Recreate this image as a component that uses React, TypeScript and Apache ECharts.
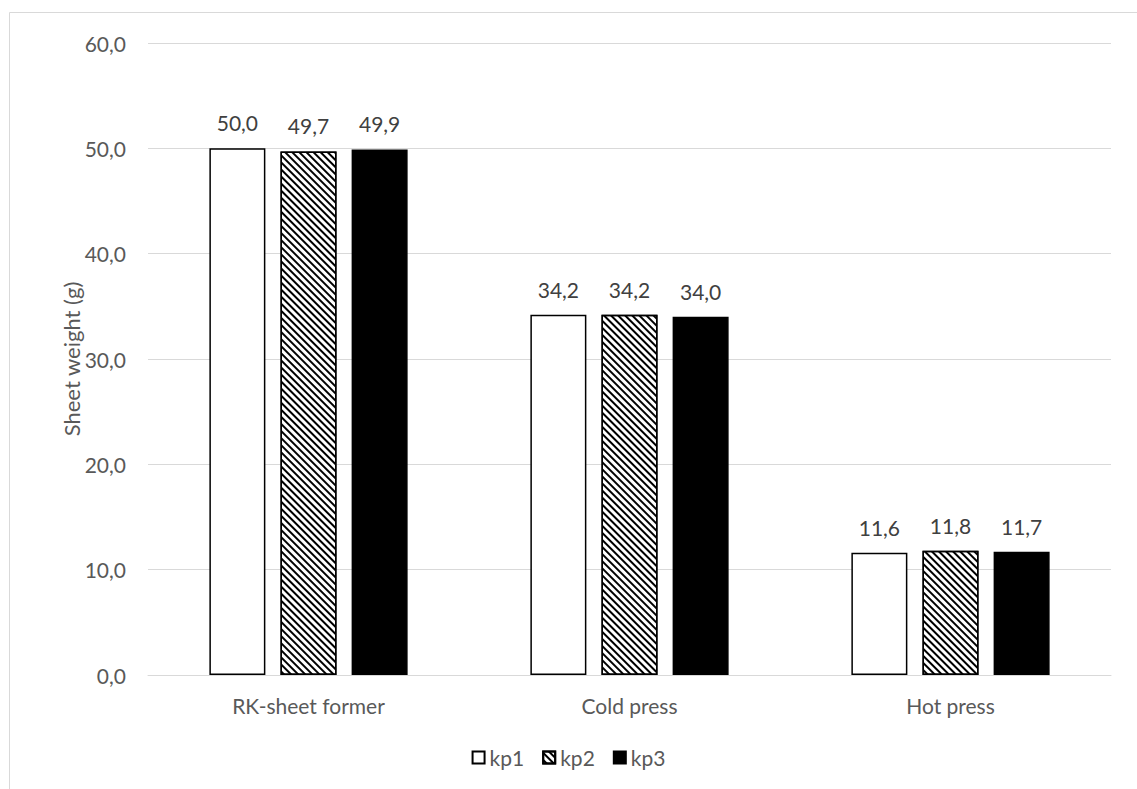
import React, { useEffect, useRef } from "react";
import * as echarts from "echarts";

const categories = ["RK-sheet former", "Cold press", "Hot press"];
const kp1 = [50.0, 34.2, 11.6];
const kp2 = [49.7, 34.2, 11.8];
const kp3 = [49.9, 34.0, 11.7];
const seriesNames = ["kp1", "kp2", "kp3"];

const FONT = "Lato, 'Open Sans', sans-serif";
const fmt = (v: number) => v.toFixed(1).replace(".", ",");

export default function App() {
  const ref = useRef<HTMLDivElement>(null);

  useEffect(() => {
    if (!ref.current) return;
    const chart = echarts.init(ref.current, null, { renderer: "svg" });

    const label = {
      show: true,
      position: "top" as const,
      distance: 15,
      color: "#404040",
      fontSize: 21,
      fontFamily: FONT,
      formatter: (p: any) => fmt(p.value),
    };
    const border = { borderColor: "#000", borderWidth: 1.5 };
    const hatch = {
      symbol: "rect",
      symbolSize: 1,
      color: "#000",
      backgroundColor: "#fff",
      dashArrayX: [1, 0],
      dashArrayY: [2, 3],
      rotation: Math.PI / 4,
    };

    chart.setOption({
      animation: false,
      backgroundColor: "#fff",
      textStyle: { fontFamily: FONT },
      graphic: [
        {
          type: "rect",
          shape: { x: 9.5, y: 12.5, width: 1300, height: 900 },
          style: { fill: "none", stroke: "#d9d9d9", lineWidth: 1 },
          silent: true,
        },
      ],
      grid: { left: 148, right: 26, top: 43, bottom: 114 },
      legend: {
        bottom: 16,
        left: "center",
        icon: "rect",
        itemWidth: 12,
        itemHeight: 12,
        itemGap: 18,
        textStyle: { color: "#595959", fontSize: 21, fontFamily: FONT },
        data: seriesNames,
      },
      xAxis: {
        type: "category",
        data: categories,
        axisTick: { show: false },
        axisLine: { lineStyle: { color: "#d9d9d9", width: 1 } },
        axisLabel: { color: "#595959", fontSize: 21, margin: 20, fontFamily: FONT },
      },
      yAxis: {
        type: "value",
        min: 0,
        max: 60,
        interval: 10,
        name: "Sheet weight (g)",
        nameLocation: "middle",
        nameGap: 66,
        nameMoveOverlap: false,
        nameTextStyle: { color: "#595959", fontSize: 22, fontFamily: FONT },
        axisLine: { show: false },
        axisTick: { show: false },
        axisLabel: {
          color: "#595959",
          fontSize: 21,
          margin: 22,
          fontFamily: FONT,
          formatter: (v: number) => fmt(v),
        },
        splitLine: { lineStyle: { color: "#d9d9d9", width: 1 } },
      },
      series: [
        {
          name: "kp1",
          type: "bar",
          data: kp1,
          barWidth: 56,
          barGap: "27%",
          itemStyle: { color: "#fff", ...border },
          label,
        },
        {
          name: "kp2",
          type: "bar",
          data: kp2,
          barWidth: 56,
          barGap: "27%",
          itemStyle: { color: "#fff", ...border, decal: hatch },
          label,
        },
        {
          name: "kp3",
          type: "bar",
          data: kp3,
          barWidth: 56,
          barGap: "27%",
          itemStyle: { color: "#000", ...border },
          label,
        },
      ],
    });

    return () => chart.dispose();
  }, []);

  return (
    <div
      ref={ref}
      style={{ position: "fixed", left: 0, top: 0, width: 1137, height: 789 }}
    />
  );
}
